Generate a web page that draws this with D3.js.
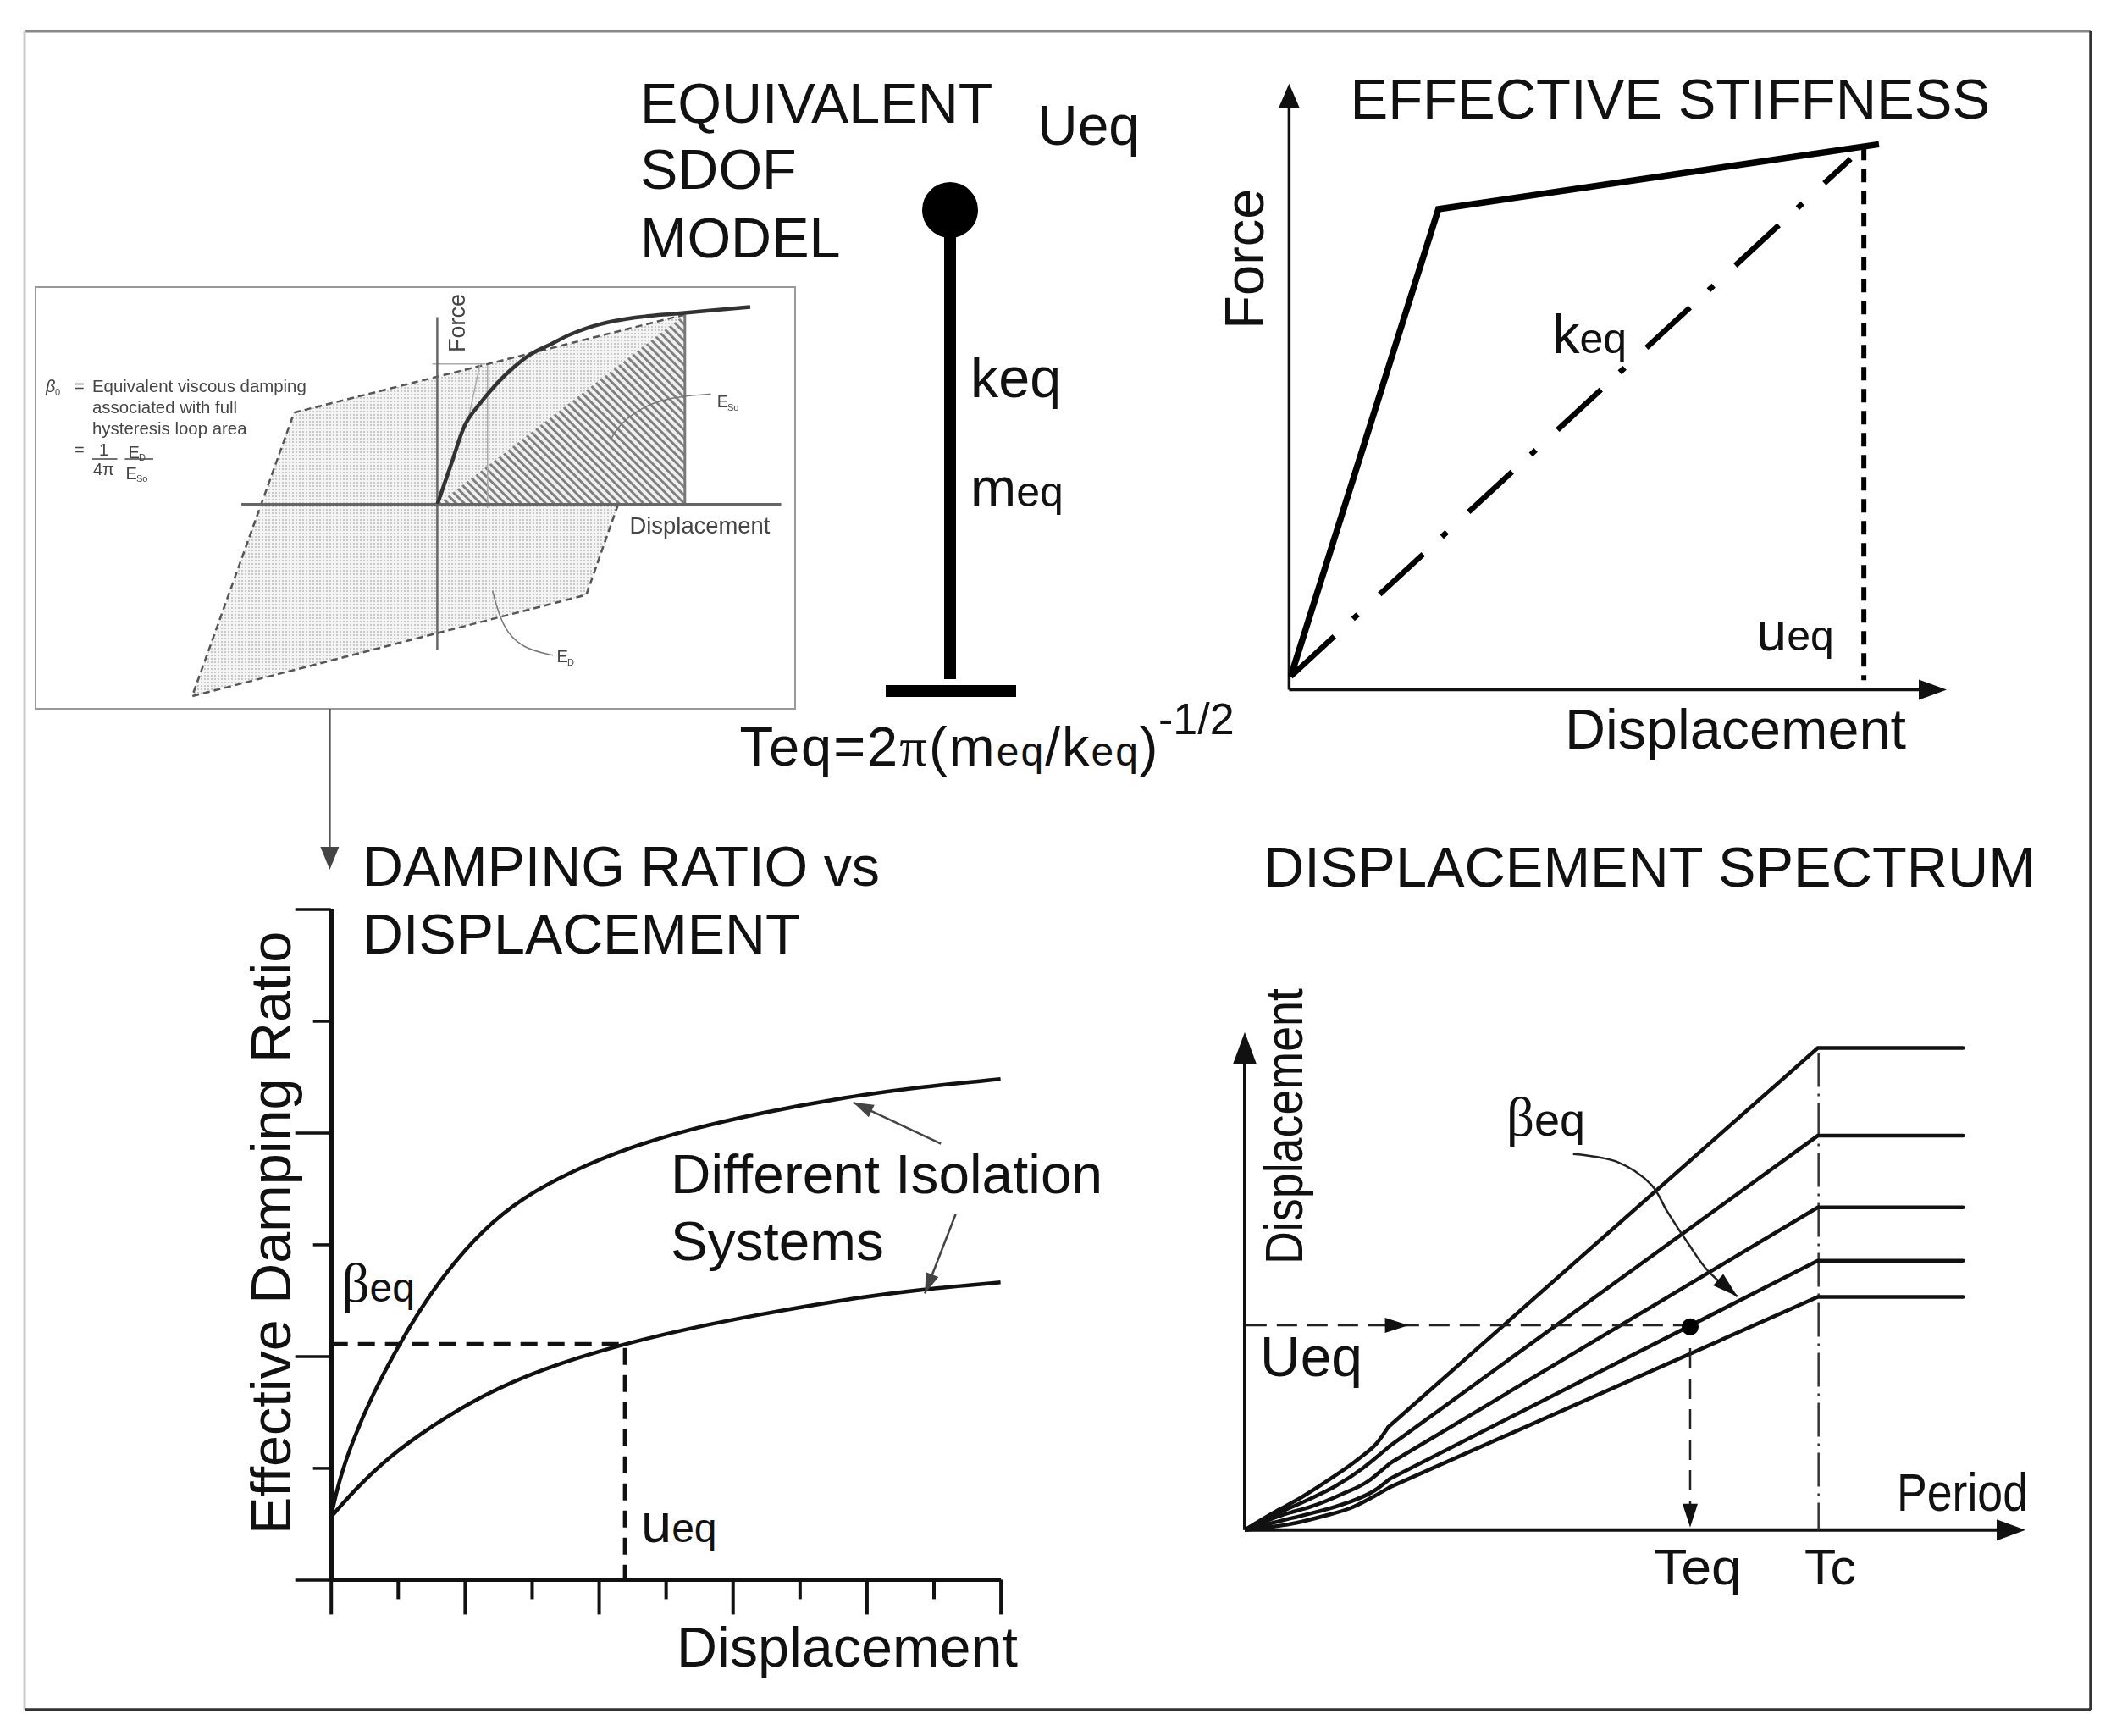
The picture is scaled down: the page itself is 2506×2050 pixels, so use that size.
<!DOCTYPE html>
<html>
<head>
<meta charset="utf-8">
<title>Equivalent SDOF design procedure</title>
<script src="https://cdn.jsdelivr.net/npm/d3@7"></script>
<style>
html, body { margin: 0; padding: 0; background: #fff; }
svg { display: block; }
text { font-family: "Liberation Sans", Arial, sans-serif; fill: #111; }
</style>
</head>
<body>
<script>
// --- hysteresis loop (inset), peak point = 100,100
var loopCorners = [[100, 100], [-57.8, 48.4], [-99, -101], [60.2, -47.6]],
    strainTriangle = [[0, 0], [100, 100], [100, 0]],
    backbone = [[0.1, 0.3], [5.8, 21.9], [11.5, 42.7], [17.2, 53.1], [22.9, 62], [29.7, 70.9], [37.7, 79.1], [45.7, 84.3], [53.7, 89.5], [65.1, 94.7], [79.9, 98.4], [97, 100.6], [126.4, 104]],
    insetGrayLines = [[[-2, 74], [19.3, 74]], [[17.2, 73.5], [12.2, 43]], [[20.3, 73.5], [20.3, -1.9]]],
    esoLeader = [[110.5, 58.2], [99.4, 57.1], [85.2, 53.7], [73, 41.8], [70, 33.9]],
    edLeader = [[46.7, -79.4], [34.5, -75.9], [26.4, -65.3], [22.3, -45.5]],
    insetDefinition = ["Equivalent viscous damping", "associated with full", "hysteresis loop area"];

// --- effective stiffness
var forceCurve = [[0.25, 2.2], [22.7, 79.3], [89.7, 90]],
    secantLine = [[0.25, 2.2], [85.4, 87.6]],
    ueqStiffness = [[87.4, 89.6], [87.4, 1.6]];

// --- damping ratio vs displacement
var dampingXTicks = [0, 1, 2, 3, 4, 5, 6, 7, 8, 9, 10],
    dampingYTicks = [0, 1, 2, 3, 4, 5, 6],
    dampingUpper = [[0, 0.56], [0, 0.56], [0.115, 0.87], [0.315, 1.23], [0.615, 1.65], [1.015, 2.1], [1.315, 2.4], [1.715, 2.75], [2.265, 3.13], [2.865, 3.42], [3.615, 3.66], [4.465, 3.87], [5.365, 4.03], [6.365, 4.17], [7.705, 4.32], [8.83, 4.41], [10, 4.48], [10, 4.48]],
    dampingLower = [[0, 0.56], [0, 0.56], [0.365, 0.81], [0.865, 1.1], [1.515, 1.38], [2.265, 1.65], [3.115, 1.88], [4.365, 2.11], [5.365, 2.25], [6.365, 2.37], [7.705, 2.51], [8.83, 2.6], [10, 2.66], [10, 2.66]],
    dampingDashed = [[0, 2.11], [4.39, 2.11], [4.39, 0]],
    isolationArrows = [[[9.11, 3.9], [7.8, 4.27]], [[9.33, 3.27], [8.87, 2.56]]];

// --- displacement spectrum, five damping levels
// each line: curved foot up to the kink, then straight to Tc and flat
var spectrumFeet = [
        [[0, 0], [3.6, 3.4], [7.2, 6.5], [10.9, 10.2], [14.5, 14.2], [17, 17.6], [18.4, 20.7]],
        [[0, 0], [4.3, 3.4], [8, 6], [11.6, 8.8], [15.2, 12.5], [17.4, 15.3], [18.6, 16.9]],
        [[0, 0], [5, 3.1], [8.7, 4.8], [12.3, 7.1], [15.9, 9.9], [17.7, 12.2], [18.8, 13.6]],
        [[0, 0], [5.8, 2.3], [9.4, 3.7], [13, 5.4], [16.6, 7.9], [18.6, 10.3]],
        [[0, 0], [6.5, 1.4], [10.1, 2.8], [13.7, 4.5], [16.6, 6.8], [18.6, 8.6]]
    ],
    spectrumTc = 73.4,
    spectrumEnd = 92,
    spectrumPlateaus = [96.8, 79.2, 64.8, 54.1, 46.8],
    spectrumPoint = [57.05, 40.8],
    ueqSpectrum = [[0.2, 41.1], [57.05, 41.1]],
    teqSpectrum = [[57.05, 36.5], [57.05, 0]],
    tcSpectrum = [[73.5, 95.8], [73.5, 0]],
    betaArrow = [[42.05, 75.5], [47.6, 74], [52.1, 69.3], [54.1, 64], [56.9, 57.3], [59.3, 52.1], [63.1, 46.9]];

var svg = d3.select("body").append("svg").attr("width", 2506).attr("height", 2050),
    defs = svg.append("defs");

svg.append("rect").attr("width", 2506).attr("height", 2050).attr("fill", "#fff");

// patterns for the inset
var dots = defs.append("pattern").attr("id", "dots").attr("width", 4).attr("height", 4)
    .attr("patternUnits", "userSpaceOnUse");
dots.append("rect").attr("width", 4).attr("height", 4).attr("fill", "#f4f4f4");
dots.append("circle").attr("cx", 2).attr("cy", 2).attr("r", 0.9).attr("fill", "#b4b4b4");

var hatch = defs.append("pattern").attr("id", "hatch").attr("width", 6.8).attr("height", 6.8)
    .attr("patternUnits", "userSpaceOnUse").attr("patternTransform", "rotate(-45)");
hatch.append("rect").attr("width", 6.8).attr("height", 6.8).attr("fill", "#f0f0f0");
hatch.append("rect").attr("width", 2.8).attr("height", 6.8).attr("fill", "#7c7c7c");

defs.append("filter").attr("id", "soft").append("feGaussianBlur").attr("stdDeviation", 0.6);

function drawLine(parent, pts, xs, ys, width, color, dash, curve) {
    var line = d3.line().x(function(d) { return xs(d[0]); }).y(function(d) { return ys(d[1]); })
        .curve(curve || d3.curveLinear);
    return parent.append("path").attr("d", line(pts)).attr("fill", "none")
        .attr("stroke", color || "#111").attr("stroke-width", width)
        .attr("stroke-dasharray", dash || null);
}

// filled triangle whose tip sits on "to", pointing along from -> to
function arrowHead(parent, from, to, xs, ys, len, wide, color) {
    var x1 = xs(from[0]), y1 = ys(from[1]), x2 = xs(to[0]), y2 = ys(to[1]),
        a = Math.atan2(y2 - y1, x2 - x1),
        bx = x2 - len * Math.cos(a), by = y2 - len * Math.sin(a),
        nx = -Math.sin(a) * wide / 2, ny = Math.cos(a) * wide / 2;
    parent.append("path")
        .attr("d", "M" + x2 + "," + y2 + "L" + (bx + nx) + "," + (by + ny) + "L" + (bx - nx) + "," + (by - ny) + "Z")
        .attr("fill", color || "#111");
}

function label(parent, x, y, str, size, rotate, length) {
    var t = parent.append("text").attr("x", x).attr("y", y).attr("font-size", size).text(str);
    if (rotate) t.attr("transform", "rotate(-90 " + x + " " + y + ")");
    if (length) t.attr("textLength", length).attr("lengthAdjust", "spacingAndGlyphs");
    return t;
}

// big letter + small "eq", the way all the symbols are set
function eqLabel(parent, x, y, big, serif, eqSize) {
    var t = parent.append("text").attr("x", x).attr("y", y).attr("font-size", 65);
    var b = t.append("tspan").text(big);
    if (serif) b.style("font-family", "'Liberation Serif', serif");
    t.append("tspan").attr("font-size", eqSize || 48).text("eq");
    return t;
}

// frame, each side has its own tone in the scan
var frameX = d3.scaleLinear().domain([0, 1]).range([29, 2469]),
    frameY = d3.scaleLinear().domain([0, 1]).range([37, 2019]);
drawLine(svg, [[0, 0], [1, 0]], frameX, frameY, 3, "#888");
drawLine(svg, [[0, 0], [0, 1]], frameX, frameY, 3, "#ccc");
drawLine(svg, [[1, 0], [1, 1]], frameX, frameY, 3.5, "#333");
drawLine(svg, [[0, 1], [1, 1]], frameX, frameY, 3.5, "#333");

// ---------- inset: hysteresis loop
var inset = svg.append("g").attr("filter", "url(#soft)"),
    insetX = d3.scaleLinear().domain([0, 100]).range([516.4, 808.8]),
    insetY = d3.scaleLinear().domain([0, 100]).range([595.7, 371.5]),
    polyLine = d3.line().x(function(d) { return insetX(d[0]); }).y(function(d) { return insetY(d[1]); });

inset.append("rect").attr("x", 42).attr("y", 339).attr("width", 897).attr("height", 498)
    .attr("fill", "#fff").attr("stroke", "#999").attr("stroke-width", 2);
inset.append("path").attr("d", polyLine(loopCorners) + "Z").attr("fill", "url(#dots)")
    .attr("stroke", "#555").attr("stroke-width", 2.5).attr("stroke-dasharray", "8 5");
inset.append("path").attr("d", polyLine(strainTriangle) + "Z").attr("fill", "url(#hatch)");
drawLine(inset, [[100, 100], [100, 0]], insetX, insetY, 3, "#777");
insetGrayLines.forEach(function(l) {
    drawLine(inset, l, insetX, insetY, 1.5, "#aaa");
});
drawLine(inset, [[-79.1, 0], [138.9, 0]], insetX, insetY, 3.5, "#666");
drawLine(inset, [[0, 98.7], [0, -76.7]], insetX, insetY, 2.5, "#666");
drawLine(inset, backbone, insetX, insetY, 4.5, "#333", null, d3.curveCatmullRom);
drawLine(inset, esoLeader, insetX, insetY, 1.5, "#777", null, d3.curveBasis);
drawLine(inset, edLeader, insetX, insetY, 1.5, "#777", null, d3.curveBasis);

function insetText(x, y, str, size) {
    return label(inset, x, y, str, size).style("fill", "#444");
}
label(inset, 549, 416, "Force", 27, true).style("fill", "#444");
insetText(743.5, 629.5, "Displacement", 27.4);
insetText(54, 463, "β", 20).style("font-style", "italic");
insetText(65, 467, "0", 11);
insetText(88, 463, "=", 20);
insetDefinition.forEach(function(str, i) {
    insetText(109, 463 + i * 25, str, 20.4);
});
insetText(88, 538, "=", 20);
insetText(117, 537.6, "1", 20);
insetText(110, 561, "4π", 20);
insetText(151.6, 540.5, "E", 20);
insetText(164, 544, "D", 11);
insetText(148.6, 565.5, "E", 20);
insetText(161, 569, "So", 11);
insetText(846.7, 481, "E", 20);
insetText(859, 485, "So", 11);
insetText(657.5, 782, "E", 20);
insetText(670, 786, "D", 11);
inset.append("line").attr("x1", 109).attr("x2", 138.5).attr("y1", 542).attr("y2", 542).attr("stroke", "#444").attr("stroke-width", 1.5);
inset.append("line").attr("x1", 147.4).attr("x2", 181).attr("y1", 542).attr("y2", 542).attr("stroke", "#444").attr("stroke-width", 1.5);

// arrow from the inset down to the damping plot
var linkX = d3.scaleLinear().domain([0, 1]).range([389.4, 389.4]),
    linkY = d3.scaleLinear().domain([0, 1]).range([837, 1027]);
drawLine(svg, [[0, 0], [0, 0.9]], linkX, linkY, 2.5, "#555");
arrowHead(svg, [0, 0], [0, 1], linkX, linkY, 27, 22, "#444");

// ---------- SDOF model
label(svg, 756, 144.7, "EQUIVALENT", 66.5);
label(svg, 756, 223, "SDOF", 66.5);
label(svg, 756, 304, "MODEL", 66.5);
label(svg, 1225, 170.5, "Ueq", 66);
svg.append("circle").attr("cx", 1122).attr("cy", 248).attr("r", 33).attr("fill", "#000");
svg.append("line").attr("x1", 1122).attr("x2", 1122).attr("y1", 270).attr("y2", 802)
    .attr("stroke", "#000").attr("stroke-width", 14);
svg.append("line").attr("x1", 1046).attr("x2", 1200).attr("y1", 816).attr("y2", 816)
    .attr("stroke", "#000").attr("stroke-width", 14);
label(svg, 1146, 469, "keq", 66.5);
eqLabel(svg, 1146, 598, "m", false, 50);

var formula = svg.append("text").attr("x", 873.5).attr("y", 904).attr("font-size", 65)
    .attr("textLength", 494).attr("lengthAdjust", "spacing");
formula.append("tspan").text("Teq=2");
formula.append("tspan").style("font-family", "'Liberation Serif', serif").text("π");
formula.append("tspan").text("(m");
formula.append("tspan").attr("font-size", 48).text("eq");
formula.append("tspan").text("/k");
formula.append("tspan").attr("font-size", 48).text("eq");
formula.append("tspan").text(")");
label(svg, 1368, 867, "-1/2", 52);

// ---------- effective stiffness
var stiffX = d3.scaleLinear().domain([0, 100]).range([1522.4, 2299]),
    stiffY = d3.scaleLinear().domain([0, 100]).range([814.6, 98.8]),
    stiffG = svg.append("g");

drawLine(stiffG, [[0, 0], [0, 96]], stiffX, stiffY, 3.5, "#111");
arrowHead(stiffG, [0, 0], [0, 100], stiffX, stiffY, 29, 25);
drawLine(stiffG, [[0, 0], [96, 0]], stiffX, stiffY, 3.5, "#111");
arrowHead(stiffG, [0, 0], [100, 0], stiffX, stiffY, 33, 24);
drawLine(stiffG, forceCurve, stiffX, stiffY, 7.5, "#000");
drawLine(stiffG, secantLine, stiffX, stiffY, 6.5, "#000", "70 30 8 35");
drawLine(stiffG, ueqStiffness, stiffX, stiffY, 6, "#000", "16 10");

label(svg, 1594.5, 140, "EFFECTIVE STIFFNESS", 67);
label(svg, 1492.5, 388.7, "Force", 65, true);
eqLabel(svg, 1833, 417, "k", false, 50);
eqLabel(svg, 2074, 767.6, "u", false, 50);
label(svg, 1848, 883.5, "Displacement", 66.5);

// ---------- damping ratio vs displacement
var dampX = d3.scaleLinear().domain([0, 10]).range([390.7, 1181.6]),
    dampY = d3.scaleLinear().domain([0, 6]).range([1865.4, 1073.5]),
    dampG = svg.append("g");

var dampXAxis = dampG.append("g").attr("transform", "translate(0," + dampY(0) + ")")
    .call(d3.axisBottom(dampX).tickValues(dampingXTicks).tickFormat("").tickSizeOuter(0));
dampXAxis.selectAll(".tick line").attr("y2", function(d) { return d % 2 === 0 ? 41 : 23; })
    .attr("stroke", "#111").attr("stroke-width", 4);
dampXAxis.select(".domain").attr("stroke", "#111").attr("stroke-width", 4);

var dampYAxis = dampG.append("g").attr("transform", "translate(" + dampX(0) + ",0)")
    .call(d3.axisLeft(dampY).tickValues(dampingYTicks).tickFormat("").tickSizeOuter(0));
dampYAxis.selectAll(".tick line").attr("x2", function(d) { return d % 2 === 0 ? -42 : -21; })
    .attr("stroke", "#111").attr("stroke-width", 3.5);
dampYAxis.select(".domain").attr("stroke", "#111").attr("stroke-width", 6);

drawLine(dampG, dampingUpper, dampX, dampY, 4.5, "#111", null, d3.curveBasis);
drawLine(dampG, dampingLower, dampX, dampY, 4.5, "#111", null, d3.curveBasis);
drawLine(dampG, dampingDashed, dampX, dampY, 4.5, "#111", "20 12");
isolationArrows.forEach(function(a) {
    drawLine(dampG, a, dampX, dampY, 2.5, "#444");
    arrowHead(dampG, a[0], a[1], dampX, dampY, 24, 16, "#444");
});

label(svg, 428, 1046, "DAMPING RATIO vs", 66.4);
label(svg, 428, 1126, "DISPLACEMENT", 66.4);
label(svg, 343, 1812, "Effective Damping Ratio", 66.5, true);
label(svg, 799, 1968, "Displacement", 66.5);
label(svg, 792, 1409, "Different Isolation", 65.7);
label(svg, 792, 1488, "Systems", 65.7);
eqLabel(svg, 403.5, 1537, "β", true);
eqLabel(svg, 757, 1821, "u");

// ---------- displacement spectrum
var specX = d3.scaleLinear().domain([0, 100]).range([1470, 2392]),
    specY = d3.scaleLinear().domain([0, 100]).range([1806.7, 1218.8]),
    specG = svg.append("g");

drawLine(specG, [[0, 0], [0, 95]], specX, specY, 4, "#111");
arrowHead(specG, [0, 0], [0, 100], specX, specY, 38, 28);
drawLine(specG, [[0, 0], [97, 0]], specX, specY, 4, "#111");
arrowHead(specG, [0, 0], [100, 0], specX, specY, 34, 25);
drawLine(specG, tcSpectrum, specX, specY, 2.5, "#333", "40 8 3 8");
spectrumFeet.forEach(function(foot, i) {
    var kink = foot[foot.length - 1],
        plateau = spectrumPlateaus[i];
    drawLine(specG, foot, specX, specY, 4.5, "#111", null, d3.curveMonotoneX);
    drawLine(specG, [kink, [spectrumTc, plateau], [spectrumEnd, plateau]], specX, specY, 4.5, "#111")
        .attr("stroke-linecap", "round");
});
drawLine(specG, ueqSpectrum, specX, specY, 2.5, "#222", "24 12");
arrowHead(specG, [18, 41.1], [21, 41.1], specX, specY, 28, 18);
drawLine(specG, teqSpectrum, specX, specY, 2.5, "#222", "24 12");
arrowHead(specG, [57.05, 10], [57.05, 0.5], specX, specY, 28, 18);
specG.append("circle").attr("cx", specX(spectrumPoint[0])).attr("cy", specY(spectrumPoint[1]))
    .attr("r", 10).attr("fill", "#000");
drawLine(specG, betaArrow, specX, specY, 2.5, "#222", null, d3.curveCatmullRom);
arrowHead(specG, betaArrow[5], betaArrow[6], specX, specY, 30, 18);

label(svg, 1492, 1047, "DISPLACEMENT SPECTRUM", 66.8);
label(svg, 1538, 1493, "Displacement", 63, true, 326);
label(svg, 2240, 1784, "Period", 63, false, 155);
label(svg, 1488, 1625, "Ueq", 66);
eqLabel(svg, 1779, 1341, "β", true, 54);
label(svg, 1953, 1871, "Teq", 60, false, 104);
label(svg, 2131, 1871, "Tc", 60, false, 61);
</script>
</body>
</html>
